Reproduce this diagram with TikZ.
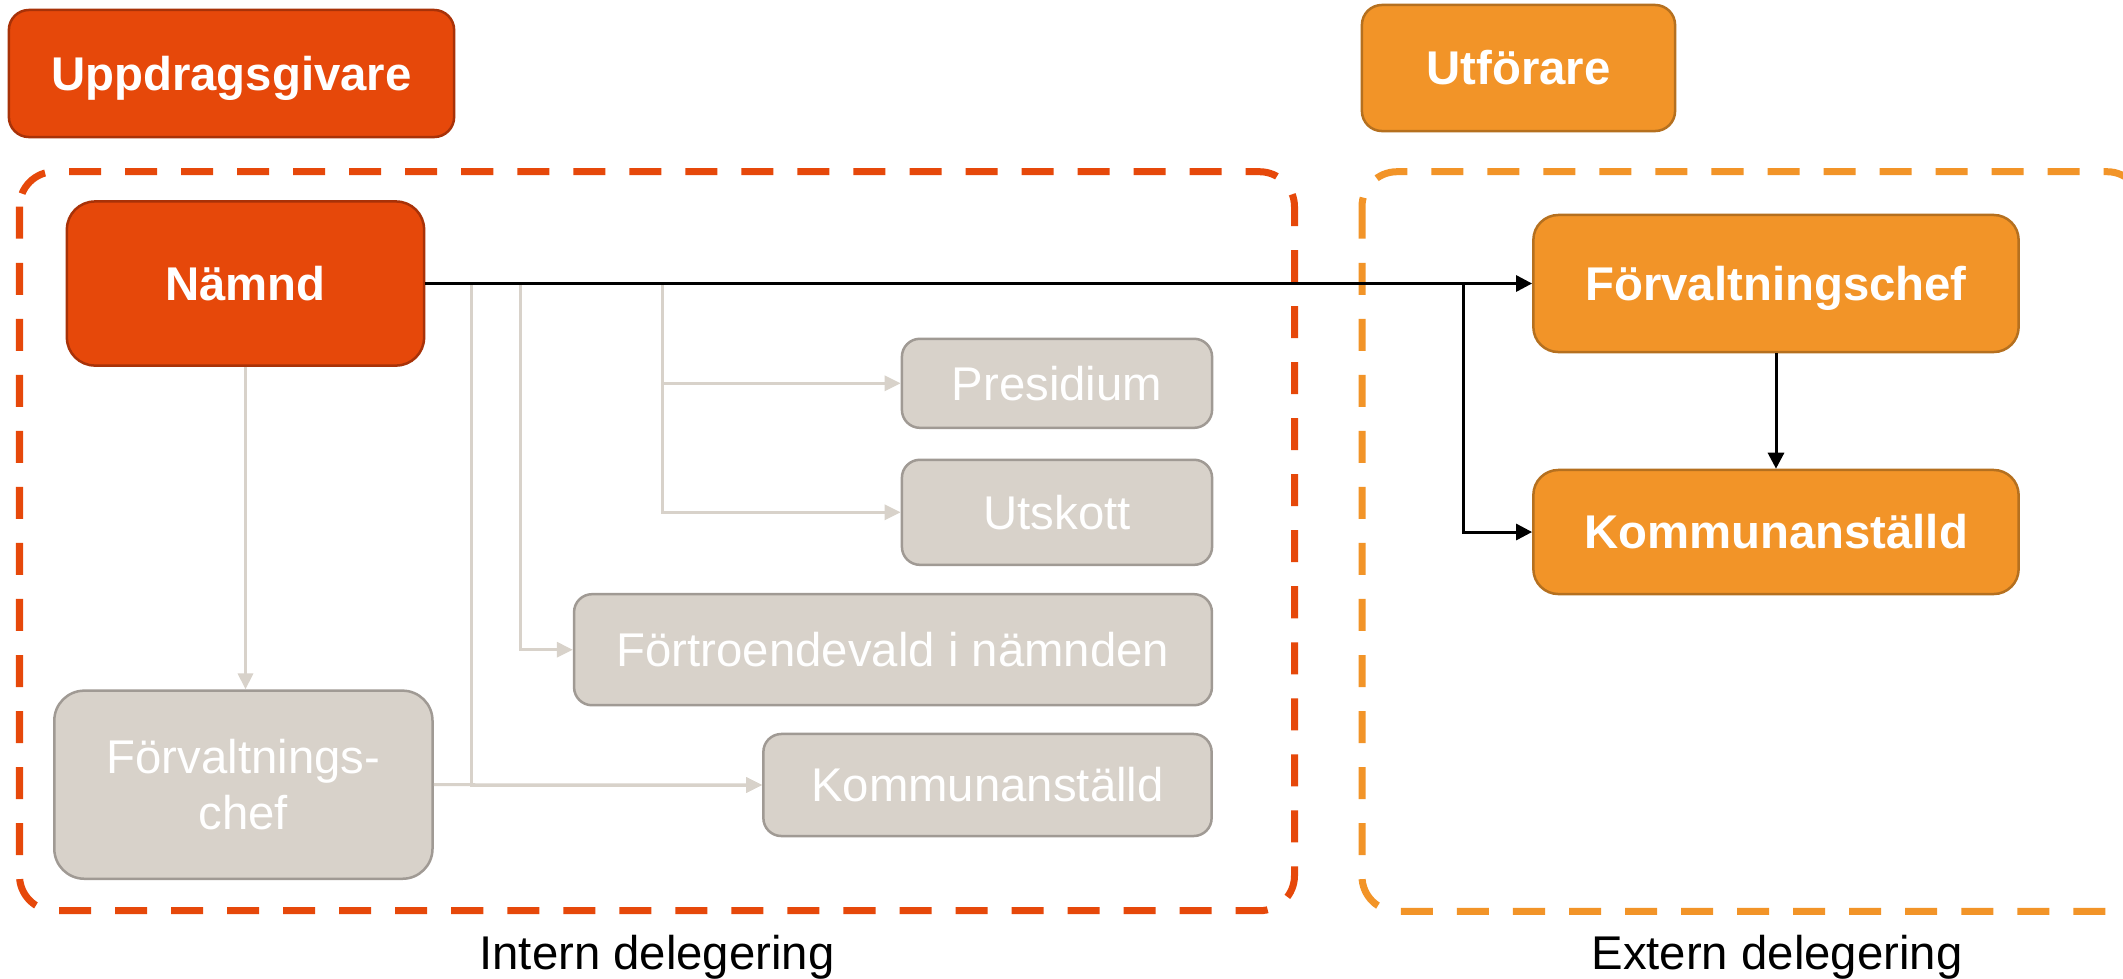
\documentclass[tikz,border=0pt]{standalone}
\usepackage{fontspec}
\setmainfont{Liberation Sans}
\usetikzlibrary{arrows.meta}
\definecolor{redf}{RGB}{230,72,10}
\definecolor{redd}{RGB}{168,50,8}
\definecolor{orf}{RGB}{242,148,40}
\definecolor{ord}{RGB}{181,112,31}
\definecolor{grf}{RGB}{216,210,202}
\definecolor{grd}{RGB}{160,154,148}
\begin{document}
\begin{tikzpicture}[x=0.01cm,y=-0.01cm,
  lbl/.style={font=\fontsize{13.46pt}{16.1pt}\selectfont},
  boxbase/.style={rectangle,inner sep=0pt,line width=0.025cm,lbl,text height=9.64pt,text depth=0pt},
  redbox/.style={boxbase,fill=redf,draw=redd,text=white,font=\fontsize{13.46pt}{16.1pt}\selectfont\bfseries},
  orbox/.style={boxbase,fill=orf,draw=ord,text=white,font=\fontsize{13.46pt}{16.1pt}\selectfont\bfseries},
  grbox/.style={boxbase,fill=grf,draw=grd,text=white,rounded corners=0.18cm},
  gline/.style={draw=grf,line width=0.03cm,-{Triangle[length=0.16cm,width=0.15cm]}},
  bline/.style={draw=black,line width=0.03cm,-{Triangle[length=0.16cm,width=0.16cm]}},
  dbox/.style={line width=0.07cm,dash pattern=on 0.32cm off 0.24cm,rounded corners=0.35cm}
]
\useasboundingbox (0,0) rectangle (2123,978);
\fill[white] (0,0) rectangle (2123,978);

% dashed frames
\draw[dbox,draw=redf] (19.5,171.7) rectangle (1294.5,910.7);
\draw[dbox,draw=orf] (1362,171.7) rectangle (2142,911.3);

% header boxes
\node[redbox,rounded corners=0.2cm,minimum width=4.45cm,minimum height=1.27cm] (upp) at (231.5,73.5) {Uppdragsgivare};
\node[orbox,rounded corners=0.2cm,minimum width=3.13cm,minimum height=1.26cm] (utf) at (1518.5,68) {Utförare};

% main boxes
\node[redbox,rounded corners=0.28cm,minimum width=3.57cm,minimum height=1.64cm] (namnd) at (245.5,283.5) {Nämnd};
\node[orbox,rounded corners=0.25cm,minimum width=4.85cm,minimum height=1.37cm] (fchef) at (1776,283.5) {Förvaltningschef};
\node[orbox,rounded corners=0.25cm,minimum width=4.85cm,minimum height=1.24cm] (komm) at (1776,532) {Kommunanställd};

\node[grbox,minimum width=3.10cm,minimum height=0.89cm] (pres) at (1057,383.3) {Presidium};
\node[grbox,minimum width=3.10cm,minimum height=1.05cm] (utsk) at (1057,512.3) {Utskott};
\node[grbox,minimum width=6.375cm,minimum height=1.11cm] (fortr) at (893,649.7) {Förtroendevald i nämnden};
\node[grbox,minimum width=4.48cm,minimum height=1.02cm] (kgray) at (987.5,785) {Kommunanställd};
\node[rectangle,inner sep=0pt,line width=0.025cm,fill=grf,draw=grd,text=white,rounded corners=0.3cm,
  minimum width=3.78cm,minimum height=1.88cm,align=center,lbl] (fgray) at (243.4,784.7) {Förvaltnings-\\chef};

% gray connectors
\coordinate (j1) at (662.4,283.5);
\coordinate (j2) at (520.7,283.5);
\coordinate (j3) at (471.4,283.5);
\draw[gline] (namnd.south) -- (namnd.south |- fgray.north);
\draw[gline] (j1) |- (pres.west);
\draw[gline] (j1) |- (utsk.west);
\draw[gline] (j2) |- (fortr.west);
\draw[gline] (j3) |- (kgray.west);
\draw[gline] (fgray.east) -- (kgray.west);

% black connectors
\coordinate (bj) at (1463.7,283.5);
\draw[bline] (namnd.east) -- (fchef.west);
\draw[bline] (bj) |- (komm.west);
\draw[bline] (fchef.south) -- (komm.north);

% captions
\node[lbl,anchor=base,inner sep=0pt] (intern) at (657,969.7) {Intern delegering};
\node[lbl,anchor=base,inner sep=0pt] (extern) at (1777,969.7) {Extern delegering};
\end{tikzpicture}
\end{document}
